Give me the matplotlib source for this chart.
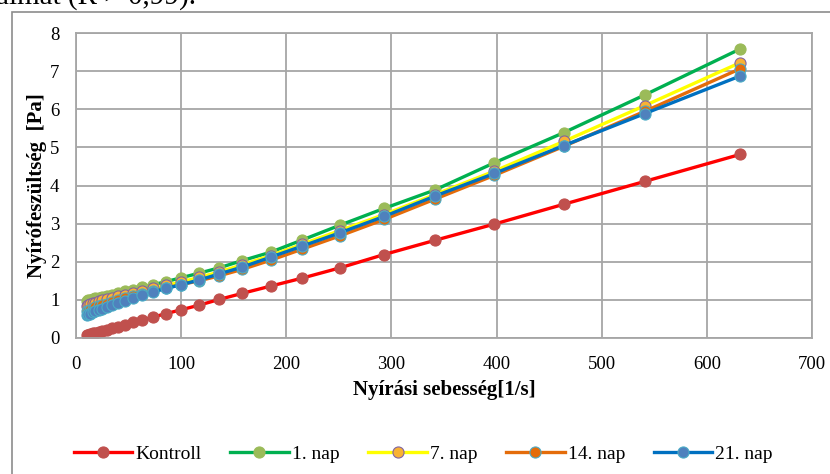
import numpy as np
import matplotlib.pyplot as plt
from matplotlib.patches import Rectangle

# shear rate [1/s] and shear stress [Pa] per sample
shear_rate = [10.0, 11.7, 13.6, 15.8, 18.5, 21.5, 25.1, 29.3, 34.1, 39.8, 46.4, 54.1,
              63.1, 73.6, 85.8, 100, 117, 136, 158, 185, 215, 251, 293, 341, 398,
              464, 541, 632]
kontroll = [0.08, 0.09, 0.11, 0.12, 0.14, 0.16, 0.19, 0.22, 0.26, 0.30, 0.35, 0.41,
            0.47, 0.55, 0.64, 0.74, 0.86, 1.01, 1.17, 1.36, 1.57, 1.84, 2.19, 2.56,
            2.99, 3.51, 4.11, 4.82]
nap1 = [0.97, 0.99, 1.00, 1.02, 1.04, 1.06, 1.08, 1.11, 1.14, 1.18, 1.22, 1.27,
        1.33, 1.40, 1.48, 1.58, 1.70, 1.84, 2.03, 2.25, 2.57, 2.96, 3.40, 3.88,
        4.60, 5.39, 6.38, 7.59]
nap7 = [0.85, 0.87, 0.89, 0.91, 0.93, 0.96, 0.99, 1.02, 1.05, 1.09, 1.13, 1.18,
        1.24, 1.30, 1.38, 1.47, 1.59, 1.73, 1.92, 2.16, 2.46, 2.82, 3.24, 3.76,
        4.38, 5.16, 6.10, 7.23]
nap14 = [0.70, 0.72, 0.74, 0.77, 0.80, 0.83, 0.86, 0.90, 0.94, 0.99, 1.04, 1.10,
         1.16, 1.23, 1.31, 1.40, 1.50, 1.63, 1.80, 2.04, 2.33, 2.68, 3.11, 3.64,
         4.27, 5.03, 5.95, 7.07]
nap21 = [0.60, 0.62, 0.64, 0.67, 0.70, 0.73, 0.77, 0.81, 0.86, 0.92, 0.98, 1.05,
         1.12, 1.21, 1.30, 1.40, 1.52, 1.68, 1.86, 2.12, 2.41, 2.76, 3.19, 3.72,
         4.32, 5.05, 5.89, 6.88]

labels = ['Kontroll', '1. nap', '7. nap', '14. nap', '21. nap']
series = [kontroll, nap1, nap7, nap14, nap21]
line_colors = ['#FF0000', '#00B050', '#FFFF00', '#E46C0A', '#0070C0']
face_colors = ['#C0504D', '#9BBB59', '#F9B233', '#E46C0A', '#4F81BD']
edge_colors = ['#C0504D', '#9BBB59', '#8064A2', '#4BACC6', '#4BACC6']

plt.rcParams['font.family'] = ['Liberation Serif', 'DejaVu Serif']

fig = plt.figure(figsize=(8.3, 4.74), dpi=100)
ax = fig.add_axes([0.0916, 0.287, 0.8867, 0.643])

for y, lab, lc, fc, ec in zip(series, labels, line_colors, face_colors, edge_colors):
    ax.plot(shear_rate, y, color=lc, lw=2.4, marker='o', markersize=8,
            markerfacecolor=fc, markeredgecolor=ec, markeredgewidth=0.8, label=lab)

ax.set_xlim(0, 700)
ax.set_ylim(0, 8)
ax.set_xticks(np.arange(0, 701, 100))
ax.set_yticks(np.arange(0, 9, 1))
ax.grid(True, color='#A6A6A6', lw=1.3)
ax.set_axisbelow(True)
for s in ax.spines.values():
    s.set_color('#A6A6A6')
    s.set_linewidth(1.3)
ax.tick_params(length=0, labelsize=13.5)
ax.tick_params(axis='x', pad=13)
ax.tick_params(axis='y', pad=12)

ax.set_xlabel('Nyírási sebesség[1/s]', fontsize=15, fontweight='bold', labelpad=5)
ax.set_ylabel('Nyírófeszültség  [Pa]', fontsize=15, fontweight='bold', labelpad=2)

ax.legend(loc='center', bbox_to_anchor=(0.51, 0.042), bbox_transform=fig.transFigure,
          ncol=5, frameon=False, fontsize=14, handlelength=3.0, columnspacing=1.5,
          handletextpad=0.15)

# chart frame and the tail of the text line above it
fig.patches.append(Rectangle((12 / 830, -0.2), 1.2, 1.2 - 12 / 474,
                             transform=fig.transFigure, fill=False,
                             edgecolor='#8C8C8C', lw=1.2))
fig.text(-0.005, 1.007, 'almat (R > 0,99).', fontsize=21, va='center', ha='left')

fig.savefig('out.png', dpi=100)
